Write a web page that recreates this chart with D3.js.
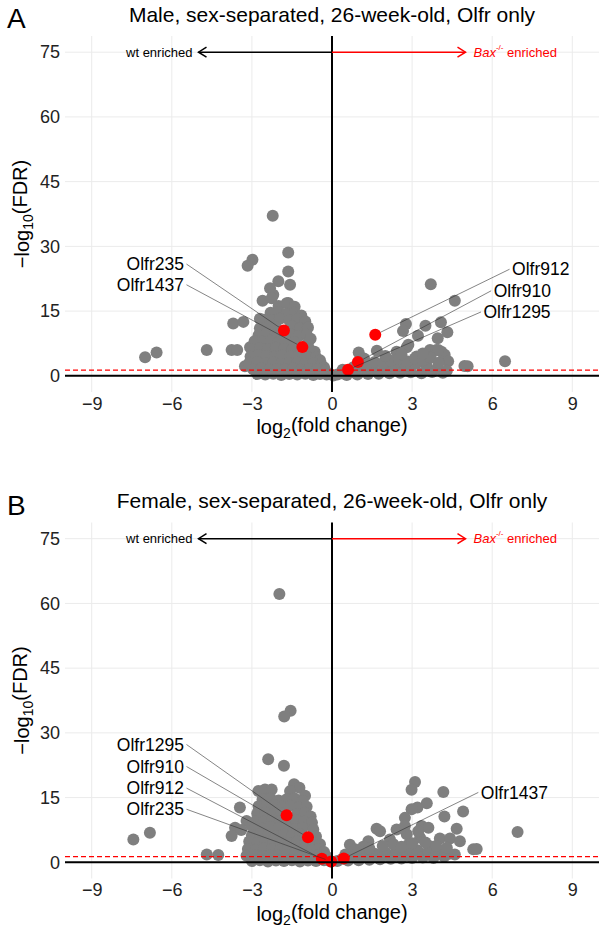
<!DOCTYPE html>
<html>
<head>
<meta charset="utf-8">
<script src="https://cdn.jsdelivr.net/npm/d3@7"></script>
<style>
  body { margin: 0; background: #fff; }
  svg { display: block; font-family: "Liberation Sans", Arial, sans-serif; }
</style>
</head>
<body>
<div id="vis"></div>
<script>
// ---- data: [log2 fold change, -log10 FDR] ----
// male, wt enriched side
var maleDown = [
  [-7.0,4.3],[-6.57,5.4],[-4.69,6.0],[-3.76,6.0],[-3.55,6.0],[-3.07,6.6],[-3.26,2.2],
  [-3.70,12.1],[-3.32,12.5],[-2.22,37.1],[-1.64,28.6],[-2.98,26.9],[-3.16,25.5],
  [-1.64,24.2],[-2.01,21.9],[-1.57,21.1],[-2.32,20.3],[-2.20,18.8],[-2.60,17.4],
  [-2.26,18.0],[-1.64,16.9],[-2.7,13.2],
  [-2.0,16.2],[-1.7,16.8],[-1.4,16.0],
  [-2.3,14.6],[-2.0,14.8],[-1.7,14.4],[-1.4,14.6],[-1.15,14.0],
  [-2.55,13.0],[-2.25,12.8],[-1.95,13.2],[-1.6,12.9],[-1.3,13.1],[-1.0,12.6],
  [-2.7,11.0],[-2.4,11.4],[-2.1,11.2],[-1.5,11.5],[-1.2,11.0],[-0.9,11.2],
  [-2.75,9.4],[-2.45,9.7],[-2.15,9.3],[-1.85,9.0],[-1.55,9.6],[-1.25,9.2],[-0.95,9.5],[-0.8,8.6],
  [-2.9,8.0],[-2.6,7.9],[-2.3,8.1],[-2.0,7.7],[-1.7,8.0],[-1.4,7.8],[-0.9,7.6],
  [-3.0,6.2],[-2.7,6.4],[-2.4,6.1],[-2.1,6.5],[-1.8,6.2],[-1.5,6.0],[-0.85,6.2],[-0.65,5.6],
  [-3.05,4.5],[-2.75,4.8],[-2.45,4.6],[-2.15,4.4],[-1.85,4.7],[-1.55,4.5],[-1.25,4.6],[-0.95,4.4],[-0.6,4.3],[-0.45,3.6],
  [-3.1,3.0],[-2.8,3.2],[-2.5,2.9],[-2.2,3.1],[-1.9,2.8],[-1.6,3.0],[-1.3,3.1],[-1.0,2.8],[-0.7,2.9],[-0.4,2.6],[-0.3,2.0],
  [-2.95,1.5],[-2.65,1.7],[-2.35,1.4],[-2.05,1.6],[-1.75,1.5],[-1.45,1.7],[-1.15,1.4],[-0.85,1.6],[-0.55,1.5],[-0.25,1.2],
  [-2.8,0.4],[-2.5,0.3],[-2.2,0.5],[-1.9,0.2],[-1.6,0.4],[-1.3,0.3],[-1.0,0.5],[-0.7,0.2],[-0.45,0.4],[-0.2,0.3],[0.05,0.1]
];
// male, Bax-/- enriched side
var maleUp = [
  [3.70,21.2],[4.60,17.4],[2.77,12.0],[2.66,10.4],[3.50,11.6],[4.08,12.4],[4.32,10.1],
  [3.22,9.3],[3.96,8.7],[2.80,6.6],[2.86,7.2],[1.00,5.4],[1.68,5.8],[2.42,5.6],[3.67,6.0],
  [3.91,6.0],[4.10,5.6],[4.22,4.9],[4.35,3.4],[4.96,2.3],[5.08,2.2],[6.48,3.4],[3.17,4.5],[3.98,6.0],
  [0.2,0.3],[0.35,0.6],[0.55,0.2],[0.75,0.8],[0.95,0.3],[1.15,1.0],[1.35,0.4],[1.55,1.3],[1.75,0.5],
  [1.95,1.7],[2.15,0.6],[2.35,2.0],[2.55,0.7],[2.75,2.5],[2.95,0.8],[3.15,2.8],[3.35,0.6],[3.55,2.2],
  [3.75,0.9],[3.95,1.8],[4.15,0.7],[4.3,1.2],
  [1.3,2.6],[1.6,3.2],[1.9,2.9],[2.2,3.5],[2.5,3.9],[2.8,3.4],[3.1,4.0],[3.4,3.6],[3.7,4.2],[4.0,3.0],
  [0.4,1.4],[0.8,2.0],[1.2,4.0],[2.0,4.6],[2.6,5.0],[3.4,5.2]
];
// female, wt enriched side
var femaleDown = [
  [-7.44,5.3],[-6.82,6.85],[-4.69,1.8],[-4.26,1.7],[-3.45,12.7],[-2.39,23.9],[-1.80,22.4],
  [-1.97,62.2],[-1.55,35.1],[-1.79,33.8],[-1.42,18.1],[-1.22,17.3],[-2.76,16.5],[-2.51,16.9],
  [-2.26,16.9],[-1.57,16.5],[-1.01,15.4],[-2.70,12.7],
  [-3.2,9.6],[-3.01,8.4],[-3.63,8.0],[-3.76,6.1],[-3.4,7.5],
  [-2.6,14.6],[-2.3,14.8],[-2.0,14.3],[-1.7,14.6],[-1.4,14.8],[-1.1,14.2],
  [-2.75,13.0],[-2.45,12.8],[-2.15,13.2],[-1.85,12.9],[-1.55,13.1],[-1.25,12.7],[-0.95,12.9],
  [-2.8,11.3],[-2.5,11.5],[-2.2,11.1],[-1.9,11.4],[-1.3,11.2],[-1.0,11.5],[-0.8,10.6],
  [-2.85,9.6],[-2.55,9.4],[-2.25,9.8],[-1.95,9.5],[-1.65,9.3],[-1.35,9.7],[-1.05,9.4],[-0.75,9.2],
  [-2.9,8.0],[-2.6,7.8],[-2.3,8.2],[-2.0,7.9],[-1.7,8.1],[-1.4,7.7],[-1.1,8.0],[-0.7,7.6],
  [-3.0,6.2],[-2.7,6.5],[-2.4,6.3],[-2.1,6.0],[-1.8,6.4],[-1.5,6.1],[-1.2,6.5],[-0.6,6.0],
  [-3.1,4.8],[-2.8,4.5],[-2.5,4.7],[-2.2,4.9],[-1.9,4.6],[-1.6,4.4],[-1.3,4.8],[-1.0,4.5],[-0.7,4.6],[-0.45,4.2],
  [-3.15,3.1],[-2.85,2.9],[-2.55,3.2],[-2.25,3.0],[-1.95,2.8],[-1.65,3.1],[-1.35,2.9],[-1.05,3.2],[-0.75,2.8],[-0.5,3.0],[-0.3,2.4],
  [-3.2,1.5],[-2.9,1.7],[-2.6,1.4],[-2.3,1.6],[-2.0,1.5],[-1.7,1.7],[-1.4,1.4],[-1.1,1.6],[-0.8,1.5],[-0.5,1.7],[-0.2,1.3],
  [-3.0,0.3],[-2.7,0.5],[-2.4,0.2],[-2.1,0.4],[-1.8,0.3],[-1.5,0.5],[-1.2,0.2],[-0.9,0.4],[-0.6,0.3],[-0.3,0.5],[-0.05,0.2]
];
// female, Bax-/- enriched side
var femaleUp = [
  [3.11,18.6],[2.98,16.8],[4.17,16.3],[3.55,13.7],[3.20,12.7],[2.98,12.3],[4.91,11.8],
  [4.21,10.6],[2.73,10.3],[1.67,7.8],[1.80,7.2],[2.42,7.6],[3.36,8.4],[3.61,8.0],[4.67,7.8],
  [6.95,7.0],[1.36,4.9],[3.30,5.7],[4.04,5.5],[4.42,5.5],[4.79,4.9],[5.29,3.0],[5.42,3.1],
  [0.67,4.1],[2.17,5.3],[2.80,6.5],[3.67,3.7],[2.73,8.4],[3.23,7.2],[2.86,4.1],[0.86,3.0],[1.17,3.6],
  [0.2,0.3],[0.4,0.8],[0.6,0.4],[0.8,1.2],[1.0,0.5],[1.2,1.6],[1.4,0.6],[1.6,2.0],[1.8,0.7],[2.0,2.3],
  [2.2,0.8],[2.4,2.7],[2.6,0.9],[2.8,2.4],[3.0,1.0],[3.2,2.8],[3.4,1.1],[3.6,2.5],[3.8,1.0],[4.0,2.2],
  [4.2,1.3],[4.4,2.0],[4.6,1.8],
  [1.4,3.2],[1.9,3.8],[2.3,4.2],[2.6,3.6],[3.0,4.4],[3.5,4.6],[3.9,3.8],[4.3,3.4],[1.0,2.6],[0.5,1.8]
];

// highlighted genes
var maleGenes = ['Olfr235', 'Olfr1437', 'Olfr912', 'Olfr910', 'Olfr1295'];
var maleGeneFC = [-1.80, -1.11, 1.62, 0.97, 0.60];
var maleGeneFDR = [10.5, 6.65, 9.5, 3.2, 1.4];
var femaleGenes = ['Olfr1295', 'Olfr910', 'Olfr912', 'Olfr235', 'Olfr1437'];
var femaleGeneFC = [-1.70, -0.90, -0.38, -0.03, 0.44];
var femaleGeneFDR = [10.9, 5.8, 0.8, 0.2, 0.9];

// where the repelled labels ended up (data units)
var maleLabelFC = [-5.45, -5.45, 6.65, 5.96, 5.58];
var maleLabelFDR = [25.9, 21.1, 24.7, 19.7, 14.8];
var femaleLabelFC = [-5.45, -5.45, -5.45, -5.45, 5.48];
var femaleLabelFDR = [27.3, 22.2, 17.2, 12.3, 16.2];

var xTicks = [-9, -6, -3, 0, 3, 6, 9];
var yTicks = [0, 15, 30, 45, 60, 75];
var titles = ['Male, sex-separated, 26-week-old, Olfr only', 'Female, sex-separated, 26-week-old, Olfr only'];
var tags = ['A', 'B'];

var fdrLine = -Math.log10(0.05);

var width = 603, height = 932;
var svg = d3.select('#vis').append('svg')
  .attr('width', width)
  .attr('height', height);

function drawPanel(i, down, up, genes, gFC, gFDR, lFC, lFDR, offsetY) {
  var g = svg.append('g').attr('transform', 'translate(0,' + offsetY + ')');
  var x = d3.scaleLinear().domain([-10, 10]).range([65, 599]);
  var y = d3.scaleLinear().domain([-3.75, 78.75]).range([392, 36]);
  var r = 6;

  // grid
  g.append('g').selectAll('line').data(xTicks).join('line')
    .attr('x1', d => x(d)).attr('x2', d => x(d))
    .attr('y1', y.range()[1]).attr('y2', y.range()[0])
    .attr('stroke', '#ebebeb').attr('stroke-width', 1);
  g.append('g').selectAll('line').data(yTicks).join('line')
    .attr('x1', x.range()[0]).attr('x2', x.range()[1])
    .attr('y1', d => y(d)).attr('y2', d => y(d))
    .attr('stroke', '#ebebeb').attr('stroke-width', 1);

  // axes (labels only)
  var ax = g.append('g').attr('transform', 'translate(0,' + y.range()[0] + ')')
    .call(d3.axisBottom(x).tickValues(xTicks).tickSize(0).tickPadding(5));
  var ay = g.append('g').attr('transform', 'translate(' + x.range()[0] + ',0)')
    .call(d3.axisLeft(y).tickValues(yTicks).tickSize(0).tickPadding(5));
  [ax, ay].forEach(function(a) {
    a.select('.domain').remove();
    a.selectAll('text').attr('font-size', 18).attr('fill', '#222')
      .attr('font-family', '"Liberation Sans", Arial, sans-serif');
  });

  // points
  var pts = down.concat(up);
  g.append('g').selectAll('circle').data(pts).join('circle')
    .attr('cx', d => x(d[0])).attr('cy', d => y(d[1])).attr('r', r)
    .attr('fill', '#7f7f7f');
  g.append('g').selectAll('circle').data(genes).join('circle')
    .attr('cx', (d, k) => x(gFC[k])).attr('cy', (d, k) => y(gFDR[k])).attr('r', r)
    .attr('fill', '#ff0000');

  // reference lines
  g.append('line')
    .attr('x1', x.range()[0]).attr('x2', x.range()[1])
    .attr('y1', y(fdrLine)).attr('y2', y(fdrLine))
    .attr('stroke', '#ff0000').attr('stroke-width', 1.2).attr('stroke-dasharray', '5,3');
  g.append('line')
    .attr('x1', x.range()[0]).attr('x2', x.range()[1])
    .attr('y1', y(0)).attr('y2', y(0))
    .attr('stroke', '#000').attr('stroke-width', 2);
  g.append('line')
    .attr('x1', x(0)).attr('x2', x(0))
    .attr('y1', y.range()[1]).attr('y2', y.range()[0])
    .attr('stroke', '#000').attr('stroke-width', 2);

  // enrichment arrows at y = 75
  var ya = y(75);
  [[-5, '#000'], [5, '#ff0000']].forEach(function(a) {
    var xe = x(a[0]), dir = Math.sign(a[0]);
    g.append('line').attr('x1', x(0)).attr('x2', xe).attr('y1', ya).attr('y2', ya)
      .attr('stroke', a[1]).attr('stroke-width', 1.5);
    g.append('path')
      .attr('d', 'M' + (xe - dir * 8) + ',' + (ya - 5) + 'L' + xe + ',' + ya + 'L' + (xe - dir * 8) + ',' + (ya + 5))
      .attr('fill', 'none').attr('stroke', a[1]).attr('stroke-width', 1.5);
  });
  g.append('text').attr('x', x(-5) - 6).attr('y', ya).attr('dy', '0.35em')
    .attr('text-anchor', 'end').attr('font-size', 13).attr('fill', '#000')
    .text('wt enriched');
  var bt = g.append('text').attr('x', x(5) + 8).attr('y', ya).attr('dy', '0.35em')
    .attr('font-size', 13).attr('fill', '#ff0000');
  bt.append('tspan').attr('font-style', 'italic').text('Bax');
  bt.append('tspan').attr('font-size', 8).attr('dy', '-0.9em').text('-/-');
  bt.append('tspan').attr('dy', '0.55em').text(' enriched');

  // label segments and labels
  genes.forEach(function(name, k) {
    var ax0 = x(lFC[k]), ay0 = y(lFDR[k]);
    var px = x(gFC[k]), py = y(gFDR[k]);
    var dx = px - ax0, dy = py - ay0, len = Math.sqrt(dx * dx + dy * dy);
    var left = lFC[k] < 0;
    g.append('line')
      .attr('x1', ax0).attr('y1', ay0)
      .attr('x2', px - dx / len * r).attr('y2', py - dy / len * r)
      .attr('stroke', '#333').attr('stroke-width', 0.6);
    g.append('text')
      .attr('x', ax0 + (left ? -2.5 : 2.5)).attr('y', ay0).attr('dy', '0.35em')
      .attr('text-anchor', left ? 'end' : 'start')
      .attr('font-size', 17.5).attr('fill', '#000')
      .text(name);
  });

  // titles
  g.append('text').attr('x', x(0)).attr('y', 21.5).attr('text-anchor', 'middle')
    .attr('font-size', 21).attr('fill', '#000').text(titles[i]);
  g.append('text').attr('x', 7).attr('y', 28).attr('font-size', 28).attr('fill', '#000').text(tags[i]);

  var xt = g.append('text').attr('x', x(0)).attr('y', 434).attr('text-anchor', 'middle')
    .attr('font-size', 20).attr('fill', '#000');
  xt.append('tspan').text('log');
  xt.append('tspan').attr('font-size', 14).attr('dy', '0.3em').text('2');
  xt.append('tspan').attr('dy', '-0.3em').text('(fold change)');

  var yt = g.append('text')
    .attr('transform', 'translate(29,' + ((y.range()[0] + y.range()[1]) / 2) + ') rotate(-90)')
    .attr('text-anchor', 'middle').attr('font-size', 20).attr('fill', '#000');
  yt.append('tspan').text('\u2212log');
  yt.append('tspan').attr('font-size', 14).attr('dy', '0.3em').text('10');
  yt.append('tspan').attr('dy', '-0.3em').text('(FDR)');
}

drawPanel(0, maleDown, maleUp, maleGenes, maleGeneFC, maleGeneFDR, maleLabelFC, maleLabelFDR, 0);
drawPanel(1, femaleDown, femaleUp, femaleGenes, femaleGeneFC, femaleGeneFDR, femaleLabelFC, femaleLabelFDR, 486.5);
</script>
</body>
</html>
